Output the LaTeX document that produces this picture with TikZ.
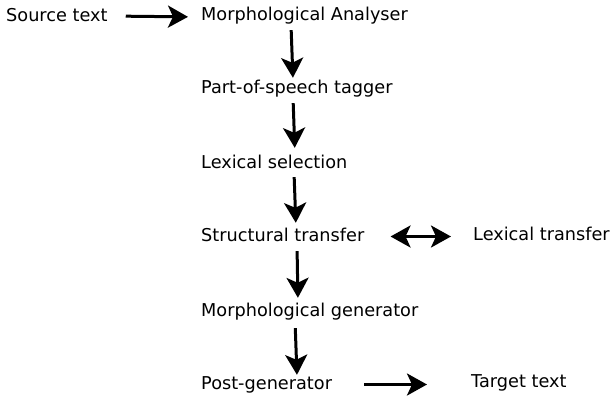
\documentclass[tikz,border=0pt]{standalone}
\usepackage{fontspec}
\setmainfont{DejaVu Sans}
\usetikzlibrary{arrows.meta}

\begin{document}
\begin{tikzpicture}[x=1pt, y=-1pt,
  lbl/.style={anchor=base west, inner sep=0pt, text height=13pt, text depth=4pt,
    font=\fontsize{17.7pt}{20pt}\selectfont},
  arr/.style={line width=3pt, -{Stealth[length=20pt, width=22pt, inset=5pt]}},
  arrr/.style={line width=3pt, {Stealth[length=20pt, width=22pt, inset=5pt]}-{Stealth[length=20pt, width=22pt, inset=5pt]}}]
\useasboundingbox (0,0) rectangle (610,396);

\node[lbl] (src) at (6,22)    {Source text};
\node[lbl] (ma)  at (201,21)  {Morphological Analyser};
\node[lbl] (pos) at (201,93)  {Part-of-speech tagger};
\node[lbl] (ls)  at (201,168) {Lexical selection};
\node[lbl] (st)  at (201,241) {Structural transfer};
\node[lbl] (lt)  at (473,240) {Lexical transfer};
\node[lbl] (mg)  at (201,316) {Morphological generator};
\node[lbl] (pg)  at (201,389) {Post-generator};
\node[lbl] (tt)  at (471,387) {Target text};

\draw[arr, shorten <=18pt, shorten >=13pt] ([yshift=1.5pt]src.east) -- ([yshift=-0.5pt]ma.west);
\draw[arr, shorten <=5pt, shorten >=2pt] ([xshift=90pt]ma.south west) -- ([xshift=92pt]pos.north west);
\draw[arr, shorten <=6pt, shorten >=7pt] ([xshift=92pt]pos.south west) -- ([xshift=94pt]ls.north west);
\draw[arr, shorten <=5pt, shorten >=5pt] ([xshift=93pt]ls.south west) -- ([xshift=95pt]st.north west);
\draw[arrr, shorten <=26pt, shorten >=22pt] (st.east) -- ([yshift=-1pt]lt.west);
\draw[arr, shorten <=6pt, shorten >=5pt] ([xshift=96pt]st.south west) -- ([xshift=97pt]mg.north west);
\draw[arr, shorten <=8pt, shorten >=1pt] ([xshift=94pt]mg.south west) -- ([xshift=96pt]pg.north west);
\draw[arr, shorten <=32pt, shorten >=44pt] (pg.east) -- ([yshift=-2pt]tt.west);
\end{tikzpicture}
\end{document}
